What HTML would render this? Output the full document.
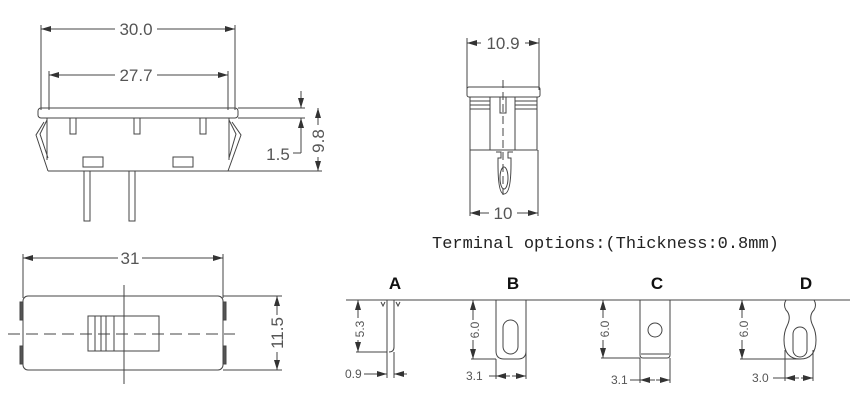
<!DOCTYPE html>
<html><head><meta charset="utf-8"><style>
html,body{margin:0;padding:0;background:#fff;}
svg{display:block;}
text{font-family:"Liberation Sans",sans-serif;fill:#555;}
</style></head><body>
<svg width="868" height="403" viewBox="0 0 868 403" xmlns="http://www.w3.org/2000/svg">
<defs>
<marker id="a" viewBox="0 0 10 6" refX="10" refY="3" markerWidth="10" markerHeight="6" orient="auto-start-reverse" markerUnits="userSpaceOnUse"><path d="M0,0L10,3L0,6z" fill="#333"/></marker>
</defs>
<g stroke="#444" stroke-width="1" fill="none">
<line x1="41" y1="25" x2="41" y2="110"/><line x1="235" y1="25" x2="235" y2="110"/>
<line x1="41" y1="29" x2="115" y2="29" marker-start="url(#a)"/><line x1="157" y1="29" x2="235" y2="29" marker-end="url(#a)"/>
<line x1="49" y1="71" x2="49" y2="110"/><line x1="228" y1="71" x2="228" y2="110"/>
<line x1="49" y1="75" x2="115" y2="75" marker-start="url(#a)"/><line x1="157" y1="75" x2="228" y2="75" marker-end="url(#a)"/>
<rect x="38" y="108" width="200" height="10" rx="3"/>
<line x1="48" y1="171" x2="228" y2="171"/>
<path d="M44,122 L36,135 L48,171 M47,120 L40,134 L48,158"/>
<path d="M232,122 L241,135 L228,171 M229,120 L236,134 L229,158"/>
<line x1="47" y1="118" x2="47" y2="160"/><line x1="229" y1="118" x2="229" y2="160"/>
<path d="M70,118 V134 H76 V118 M134,118 V134 H140 V118 M200,118 V134 H206 V118"/>
<rect x="83" y="157" width="20" height="10"/><rect x="173" y="157" width="20" height="10"/>
<rect x="84" y="171" width="6" height="50"/><rect x="129" y="171" width="6" height="50"/>
<line x1="238" y1="108" x2="305" y2="108"/><line x1="238" y1="118" x2="305" y2="118"/><line x1="228" y1="171" x2="322" y2="171"/>
<line x1="301" y1="91" x2="301" y2="108" marker-end="url(#a)"/>
<line x1="301" y1="153" x2="301" y2="118" marker-end="url(#a)"/>
<line x1="293" y1="153" x2="301" y2="153"/>
<line x1="318" y1="108" x2="318" y2="125" marker-start="url(#a)"/><line x1="318" y1="157" x2="318" y2="171" marker-end="url(#a)"/>
<line x1="467" y1="38" x2="467" y2="90"/><line x1="539" y1="38" x2="539" y2="90"/>
<line x1="467" y1="43" x2="481" y2="43" marker-start="url(#a)"/><line x1="525" y1="43" x2="539" y2="43" marker-end="url(#a)"/>
<rect x="467" y="87" width="73" height="10" rx="2"/>
<rect x="470" y="97" width="67" height="53"/>
<path d="M490,97 V150 M515,97 V150 M470,101 H490 M470,105 H490 M470,109 H490 M515,101 H537 M515,105 H537 M515,109 H537"/>
<rect x="500" y="97" width="6" height="16"/>
<line x1="503" y1="80" x2="503" y2="195" stroke-dasharray="8,4"/>
<path d="M496,152 h5 v6 h-3 v6 q0,30 6,30 q7,0 7,-30 v-6 h-3 v-6 h5"/>
<ellipse cx="504" cy="178" rx="4" ry="11"/>
<line x1="470" y1="150" x2="470" y2="216"/><line x1="538" y1="150" x2="538" y2="216"/>
<line x1="470" y1="213" x2="489" y2="213" marker-start="url(#a)"/><line x1="517" y1="213" x2="538" y2="213" marker-end="url(#a)"/>
<line x1="23" y1="254" x2="23" y2="298"/><line x1="223" y1="254" x2="223" y2="298"/>
<line x1="23" y1="258" x2="118" y2="258" marker-start="url(#a)"/><line x1="142" y1="258" x2="223" y2="258" marker-end="url(#a)"/>
<rect x="23" y="296" width="200" height="74" rx="5"/>
<rect x="20" y="302" width="3" height="18" fill="#555"/><rect x="20" y="346" width="3" height="18" fill="#555"/>
<rect x="223" y="302" width="3" height="18" fill="#555"/><rect x="223" y="346" width="3" height="18" fill="#555"/>
<rect x="88" y="316" width="71" height="35"/>
<path d="M95,316 V351 M101,316 V351 M106,316 V351 M114,316 V351"/>
<line x1="124" y1="285" x2="124" y2="384"/>
<line x1="8" y1="334" x2="235" y2="334" stroke-dasharray="12,6"/>
<line x1="223" y1="296" x2="282" y2="296"/><line x1="223" y1="370" x2="282" y2="370"/>
<line x1="277" y1="296" x2="277" y2="315" marker-start="url(#a)"/><line x1="277" y1="352" x2="277" y2="370" marker-end="url(#a)"/>
<line x1="346" y1="300" x2="850" y2="300"/>
<path d="M387,300 V352 M394,300 V347 q0,5 -5,5"/>
<path d="M381,302 l2,4 l2,-4 M396,302 l2,4 l2,-4"/>
<line x1="358" y1="300" x2="358" y2="318" marker-start="url(#a)"/><line x1="358" y1="340" x2="358" y2="352" marker-end="url(#a)"/>
<line x1="356" y1="352" x2="387" y2="352"/>
<line x1="387" y1="352" x2="387" y2="378"/><line x1="394" y1="352" x2="394" y2="378"/>
<line x1="364" y1="374" x2="387" y2="374" marker-end="url(#a)"/><line x1="407" y1="374" x2="394" y2="374" marker-end="url(#a)"/>
<path d="M496,300 V351 q0,8 8,8 h14 q8,0 8,-8 V300"/>
<rect x="503" y="320" width="15" height="34" rx="7.5"/>
<line x1="473" y1="300" x2="473" y2="320" marker-start="url(#a)"/><line x1="473" y1="340" x2="473" y2="359" marker-end="url(#a)"/>
<line x1="471" y1="359" x2="496" y2="359"/>
<line x1="496" y1="359" x2="496" y2="379"/><line x1="526" y1="300" x2="526" y2="379"/>
<line x1="489" y1="376" x2="510" y2="376"/>
<line x1="510" y1="376" x2="496" y2="376" marker-end="url(#a)"/><line x1="512" y1="376" x2="526" y2="376" marker-end="url(#a)"/>
<path d="M640,300 V355 q0,3 3,3 h24 q3,0 3,-3 V300"/>
<line x1="641" y1="354" x2="669" y2="354"/>
<circle cx="655" cy="330" r="7"/>
<line x1="603" y1="300" x2="603" y2="318" marker-start="url(#a)"/><line x1="603" y1="340" x2="603" y2="358" marker-end="url(#a)"/>
<line x1="601" y1="358" x2="640" y2="358"/>
<line x1="640" y1="358" x2="640" y2="383"/><line x1="670" y1="358" x2="670" y2="383"/>
<line x1="630" y1="380" x2="655" y2="380"/>
<line x1="654" y1="380" x2="640" y2="380" marker-end="url(#a)"/><line x1="656" y1="380" x2="670" y2="380" marker-end="url(#a)"/>
<path d="M786,300 q-3,5 0,10 q6,6 1,16 q-3,6 -3,14 q0,19 16,19 q16,0 16,-19 q0,-8 -3,-14 q-5,-10 1,-16 q3,-5 0,-10"/>
<rect x="793" y="327" width="14" height="30" rx="7"/>
<line x1="742" y1="300" x2="742" y2="318" marker-start="url(#a)"/><line x1="742" y1="340" x2="742" y2="359" marker-end="url(#a)"/>
<line x1="740" y1="359" x2="800" y2="359"/>
<line x1="785" y1="350" x2="785" y2="381"/><line x1="813" y1="350" x2="813" y2="381"/>
<line x1="773" y1="378" x2="799" y2="378"/>
<line x1="799" y1="378" x2="785" y2="378" marker-end="url(#a)"/><line x1="801" y1="378" x2="813" y2="378" marker-end="url(#a)"/>
</g>
<g font-size="17">
<text x="136" y="35" text-anchor="middle">30.0</text>
<text x="136" y="81" text-anchor="middle">27.7</text>
<text x="278" y="160" text-anchor="middle">1.5</text>
<text transform="translate(324,141) rotate(-90)" text-anchor="middle">9.8</text>
<text x="503" y="49" text-anchor="middle">10.9</text>
<text x="503" y="219" text-anchor="middle">10</text>
<text x="130" y="264" text-anchor="middle">31</text>
<text transform="translate(283,333) rotate(-90)" text-anchor="middle">11.5</text>
</g>
<text x="432" y="248" font-size="17" style="font-family:'Liberation Mono',monospace;fill:#222">Terminal options:(Thickness:0.8mm)</text>
<g font-size="17" font-weight="bold" text-anchor="middle">
<text x="395" y="289" style="fill:#111">A</text><text x="513" y="289" style="fill:#111">B</text>
<text x="657" y="289" style="fill:#111">C</text><text x="806" y="289" style="fill:#111">D</text>
</g>
<g font-size="12">
<text transform="translate(364,329) rotate(-90)" text-anchor="middle">5.3</text>
<text transform="translate(479,330) rotate(-90)" text-anchor="middle">6.0</text>
<text transform="translate(609,329) rotate(-90)" text-anchor="middle">6.0</text>
<text transform="translate(748,329) rotate(-90)" text-anchor="middle">6.0</text>
<text x="345" y="378">0.9</text>
<text x="466" y="380">3.1</text>
<text x="611" y="384">3.1</text>
<text x="752" y="382">3.0</text>
</g>
</svg>
</body></html>
